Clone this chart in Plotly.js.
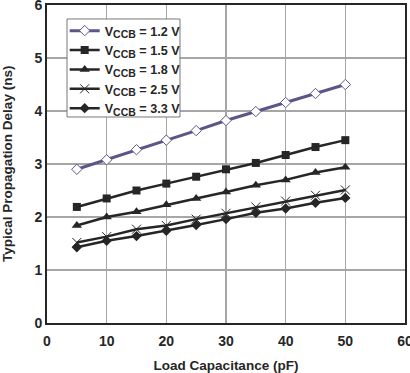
<!DOCTYPE html>
<html><head><meta charset="utf-8">
<script src="https://cdn.plot.ly/plotly-3.0.1.min.js"></script>
<style>html,body{margin:0;padding:0;background:#fff;}#chart{width:410px;height:373px;}</style>
</head><body><div id="chart"></div>
<script>
const capacitance = [5, 10, 15, 20, 25, 30, 35, 40, 45, 50];
const v12 = [2.90, 3.08, 3.27, 3.45, 3.63, 3.82, 3.99, 4.16, 4.33, 4.50];
const v15 = [2.19, 2.35, 2.50, 2.63, 2.76, 2.90, 3.02, 3.17, 3.32, 3.45];
const v18 = [1.84, 2.00, 2.10, 2.23, 2.35, 2.47, 2.60, 2.70, 2.84, 2.94];
const v25 = [1.52, 1.63, 1.77, 1.84, 1.96, 2.07, 2.19, 2.30, 2.41, 2.51];
const v33 = [1.43, 1.55, 1.64, 1.74, 1.85, 1.96, 2.08, 2.16, 2.27, 2.36];
const voltages = ["1.2", "1.5", "1.8", "2.5", "3.3"];
const xTicks = [0,10,20,30,40,50,60];
const yTicks = [0,1,2,3,4,5,6];
const xTitle = 'Load Capacitance (pF)';
const yTitle = 'Typical Propagation Delay (ns)';

const names = voltages.map(v => 'V<sub><span style="font-size:10.5px">CCB</span></sub> = ' + v + ' V');
const dark = '#262626';
const purple = '#5b5688';
const fam = 'Liberation Sans, Arial, sans-serif';
const tickFont = {family: fam, color: dark, size: 14, weight: 'bold'};
const titleFont = {family: fam, color: dark, size: 13.5, weight: 'bold'};
const series = [
  {y: v12, color: purple, sym: 'diamond', size: 8, fill: '#ffffff', lw: 1},
  {y: v15, color: dark, sym: 'square', size: 8, fill: dark, lw: 0},
  {y: v18, color: dark, sym: 'triangle-up', size: 9, fill: dark, lw: 0},
  {y: v25, color: dark, sym: 'x-thin-open', size: 9, fill: dark, lw: 1},
  {y: v33, color: dark, sym: 'diamond', size: 8, fill: dark, lw: 0}
];
const data = series.map((s, i) => ({
  x: capacitance, y: s.y, name: names[i], type: 'scatter', mode: 'lines+markers',
  line: {color: s.color, width: i === 0 ? 3 : 2.5},
  marker: {symbol: s.sym, size: s.size, color: s.fill, line: {color: s.color, width: s.lw}}
}));

const layout = {
  width: 410, height: 373,
  margin: {l: 47, r: 5, t: 5, b: 50},
  paper_bgcolor: '#fff', plot_bgcolor: '#fff',
  showlegend: true,
  legend: {x: 0.0494, y: 0.9656, xanchor: 'left', yanchor: 'top', bgcolor: 'rgba(0,0,0,0)',
           borderwidth: 0, tracegroupgap: 0, itemwidth: 30,
           font: {family: fam, size: 12.6, color: dark, weight: 'bold'}},
  shapes: [{type: 'rect', xref: 'paper', yref: 'paper', x0: 0.0559, x1: 0.3715, y0: 0.6478, y1: 0.956,
            fillcolor: '#ffffff', line: {color: '#777', width: 1}, layer: 'above'}],
  xaxis: {range: [0, 60], tickvals: xTicks, ticktext: xTicks.map(String), showgrid: true,
          gridcolor: '#a6a6a6', gridwidth: 1.5, showline: true, linecolor: dark, linewidth: 2, mirror: true,
          zeroline: false, ticks: '', tickfont: tickFont, ticklabeloverflow: 'allow', ticklabelstandoff: 4,
          title: {text: xTitle, font: titleFont, standoff: 16}},
  yaxis: {range: [0, 6], tickvals: yTicks, ticktext: yTicks.map(String), showgrid: true,
          gridcolor: '#a6a6a6', gridwidth: 1.5, showline: true, linecolor: dark, linewidth: 2, mirror: true,
          zeroline: false, ticks: '', tickfont: tickFont, ticklabeloverflow: 'allow'},
  annotations: [{text: yTitle, xref: 'paper', yref: 'paper', x: -0.112, y: 0.5,
                 xanchor: 'center', yanchor: 'middle', textangle: -90, showarrow: false, font: titleFont}]
};
Plotly.newPlot('chart', data, layout, {displayModeBar: false, staticPlot: true});
</script></body></html>
